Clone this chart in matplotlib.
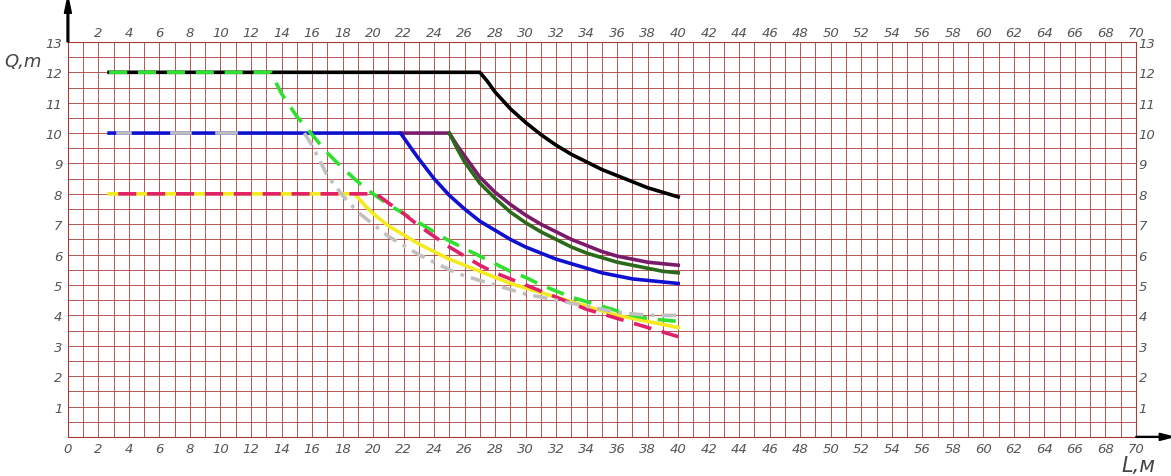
import matplotlib
matplotlib.use("Agg")
import matplotlib.pyplot as plt
import numpy as np

black_L = [2.7, 27, 27.5, 28, 29, 30, 31, 32, 33, 34, 35, 36, 37, 38, 39, 40]
black_Q = [12, 12, 11.7, 11.35, 10.8, 10.35, 9.95, 9.6, 9.3, 9.05, 8.8, 8.6, 8.4, 8.2, 8.05, 7.9]
purple_L = [21.8, 25, 25.5, 26, 27, 28, 29, 30, 31, 32, 33, 34, 35, 36, 37, 38, 39, 40]
purple_Q = [10, 10, 9.6, 9.25, 8.55, 8.05, 7.65, 7.3, 7.0, 6.75, 6.5, 6.3, 6.1, 5.95, 5.85, 5.75, 5.7, 5.65]
dgreen_L = [25, 25.5, 26, 27, 28, 29, 30, 31, 32, 33, 34, 35, 36, 37, 38, 39, 40]
dgreen_Q = [10, 9.5, 9.05, 8.35, 7.85, 7.4, 7.05, 6.75, 6.5, 6.25, 6.05, 5.9, 5.75, 5.65, 5.55, 5.45, 5.4]
blue_L = [2.7, 21.8, 22.5, 23, 24, 25, 26, 27, 28, 29, 30, 31, 32, 33, 34, 35, 36, 37, 38, 39, 40]
blue_Q = [10, 10, 9.5, 9.15, 8.5, 7.95, 7.5, 7.1, 6.8, 6.5, 6.25, 6.05, 5.85, 5.7, 5.55, 5.4, 5.3, 5.2, 5.15, 5.1, 5.05]
gray_L = [15.5, 16, 17, 18, 19, 20, 21, 22, 23, 24, 25, 26, 27, 28, 29, 30, 31, 32, 33, 34, 35, 36, 37, 38, 39, 40]
gray_Q = [10, 9.6, 8.6, 7.95, 7.4, 7.0, 6.6, 6.3, 6.0, 5.75, 5.5, 5.3, 5.15, 5.0, 4.85, 4.7, 4.6, 4.5, 4.4, 4.3, 4.2, 4.1, 4.05, 4.0, 4.0, 4.0]
lgreen_L = [2.7, 13.3, 14, 15, 16, 17, 18, 19, 20, 21, 22, 23, 24, 25, 26, 27, 28, 29, 30, 31, 32, 33, 34, 35, 36, 37, 38, 39, 40]
lgreen_Q = [12, 12, 11.3, 10.55, 9.95, 9.35, 8.85, 8.4, 8.0, 7.65, 7.35, 7.05, 6.75, 6.45, 6.2, 5.95, 5.7, 5.45, 5.25, 5.0, 4.8, 4.6, 4.45, 4.3, 4.15, 4.0, 3.9, 3.85, 3.8]
yellow_L = [2.7, 18.8, 19.5, 20, 21, 22, 23, 24, 25, 26, 27, 28, 29, 30, 31, 32, 33, 34, 35, 36, 37, 38, 39, 40]
yellow_Q = [8, 8, 7.6, 7.35, 6.95, 6.65, 6.35, 6.1, 5.85, 5.65, 5.45, 5.25, 5.05, 4.9, 4.75, 4.6, 4.45, 4.3, 4.15, 4.0, 3.9, 3.8, 3.7, 3.6]
pink_L = [3.3, 20.2, 21, 22, 23, 24, 25, 26, 27, 28, 29, 30, 31, 32, 33, 34, 35, 36, 37, 38, 39, 40]
pink_Q = [8, 8, 7.7, 7.35, 6.95, 6.6, 6.25, 5.95, 5.65, 5.4, 5.2, 5.0, 4.8, 4.6, 4.4, 4.2, 4.05, 3.9, 3.75, 3.6, 3.45, 3.3]

GRID = "#a83a3a"
fig = plt.figure(figsize=(11.71, 4.77), dpi=100)
ax = fig.add_axes([0.058, 0.082, 0.912, 0.828])
ax.set_xlim(0, 70)
ax.set_ylim(0, 13)
for x in range(0, 71):
    ax.axvline(x, color=GRID, lw=0.6, zorder=0)
for y in np.arange(0, 13.01, 0.5):
    ax.axhline(y, color=GRID, lw=0.6, zorder=0)
for s in ax.spines.values():
    s.set_color(GRID)

lw = 2.6
ax.plot(black_L, black_Q, color="black", lw=lw, zorder=3)
ax.plot(blue_L, blue_Q, color="#1010d0", lw=lw, zorder=3)
ax.plot(yellow_L, yellow_Q, color="#f5ea20", lw=lw, zorder=3)
ax.plot(purple_L, purple_Q, color="#7a1a6a", lw=lw, zorder=2)
ax.plot(dgreen_L, dgreen_Q, color="#2a6a1a", lw=lw, zorder=3)
ax.plot(lgreen_L, lgreen_Q, color="#30e030", lw=lw, ls=(8, (5, 3)), zorder=4)
ax.plot(pink_L, pink_Q, color="#e0206a", lw=lw, ls=(0, (5, 3)), zorder=4)
ax.plot(gray_L, gray_Q, color="#c0c0c0", lw=lw, ls=(0, (4, 2, 1, 2)), zorder=4)
for a, b in [(3.3, 4.1), (6.8, 8.0), (9.8, 11.0)]:
    ax.plot([a, b], [10, 10], color="#c0c0c0", lw=lw, zorder=4)

tk = dict(color="#555555", fontsize=9.5, style="italic")
ax.set_xticks(range(0, 71, 2))
ax.set_xticklabels([str(v) for v in range(0, 71, 2)], **tk)
ax.set_yticks(range(1, 14))
ax.set_yticklabels([str(v) for v in range(1, 14)], **tk)
ax.tick_params(length=0, pad=4)
ax2 = ax.twiny()
ax2.set_xlim(0, 70)
ax2.set_xticks(range(2, 71, 2))
ax2.set_xticklabels([str(v) for v in range(2, 71, 2)], **tk)
ax2.tick_params(length=0, pad=2)
ax3 = ax.twinx()
ax3.set_ylim(0, 13)
ax3.set_yticks(range(1, 14))
ax3.set_yticklabels([str(v) for v in range(1, 14)], **tk)
ax3.tick_params(length=0, pad=2)
for a in (ax2, ax3):
    for s in a.spines.values():
        s.set_visible(False)

fig.text(0.004, 0.86, "Q,m", fontsize=13, style="italic", color="#444444")
fig.text(0.958, 0.01, "L,м", fontsize=15, style="italic", color="#444444")
fig.patches.append(matplotlib.patches.FancyArrow(0.058, 0.91, 0, 0.06, width=0.0015,
                   head_width=0.006, head_length=0.035, color="black",
                   transform=fig.transFigure, figure=fig))
fig.patches.append(matplotlib.patches.FancyArrow(0.97, 0.082, 0.02, 0, width=0.002,
                   head_width=0.015, head_length=0.012, color="black",
                   transform=fig.transFigure, figure=fig))
fig.savefig("out.png", dpi=100)
